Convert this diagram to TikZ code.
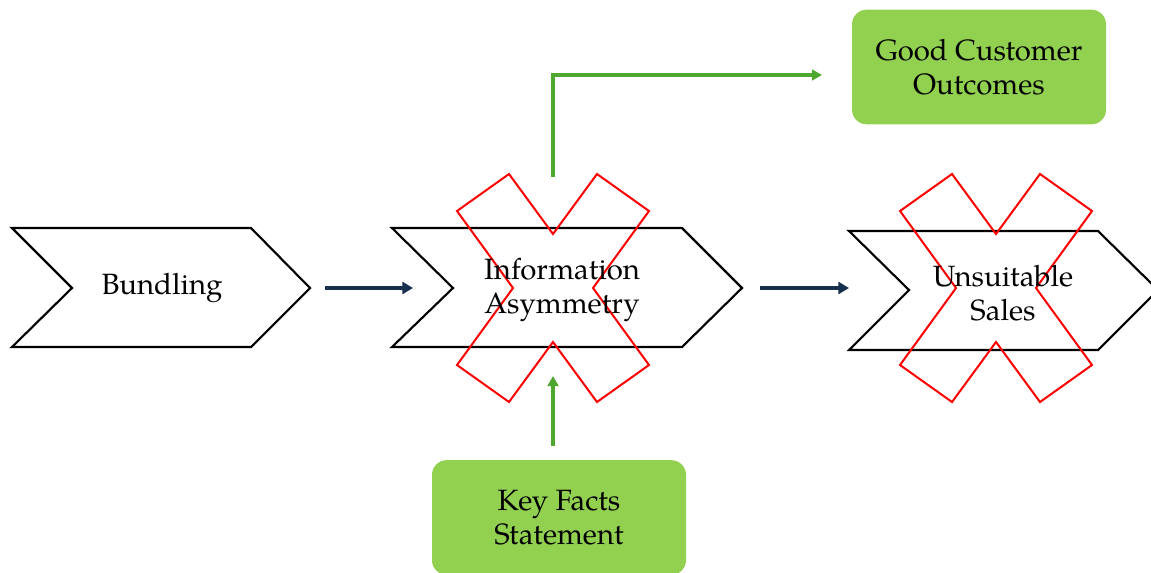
\documentclass[tikz,border=0pt]{standalone}
\usepackage{fontspec}
\setmainfont{TeX Gyre Pagella}
\usetikzlibrary{arrows.meta}
\definecolor{navy}{HTML}{16304D}
\definecolor{gline}{HTML}{4EA72E}
\definecolor{gfill}{HTML}{92D050}
\begin{document}
\begin{tikzpicture}[x=0.75pt,y=-0.75pt,
  chev/.style={draw=black,line width=1.6pt,line join=miter,fill=white},
  redx/.style={draw=red,line width=1.5pt,line join=miter},
  lbl/.style={align=center,font=\fontsize{22}{25.5}\selectfont,inner sep=0pt},
  navyarrow/.style={draw=navy,line width=3pt,-{Triangle[length=8pt,width=9pt]}},
  greenarrow/.style={draw=gline,line width=2.6pt,-{Triangle[length=7.5pt,width=8pt]}},
  gbox/.style={fill=gfill,rounded corners=11pt,minimum width=190.5pt,minimum height=86pt,align=center,font=\fontsize{22}{25.5}\selectfont,inner sep=0pt},
  pics/crossmark/.style={code={
    \draw[redx] (-44,-114) -- (0,-54) -- (44,-114) -- (96,-77) -- (40,0) -- (96,77)
      -- (44,114) -- (0,54) -- (-44,114) -- (-96,77) -- (-40,0) -- (-96,-77) -- cycle;}}]
\useasboundingbox (0,0) rectangle (1151,572);
\clip (0,0) rectangle (1151,572);
% chevrons
\draw[chev] (12,228) -- (251,228) -- (310,288) -- (251,347) -- (12,347) -- (72,288) -- cycle;
\draw[chev] (392,228) -- (682,228) -- (742,288) -- (682,347) -- (392,347) -- (453,288) -- cycle;
\draw[chev] (849,231) -- (1098,231) -- (1158,290) -- (1098,350) -- (849,350) -- (909,290) -- cycle;
% red crosses
\pic at (553,288) {crossmark};
\pic at (996,288) {crossmark};
% labels
\node[lbl] (bund) at (162,288) {Bundling};
\node[lbl] (info) at (562,290) {Information\\Asymmetry};
\node[lbl] (uns) at (1003,293) {Unsuitable\\Sales};
% green boxes
\node[gbox] (gco) at (979,67) {Good Customer\\Outcomes};
\node[gbox] (kfs) at (559,517.5) {Key Facts\\Statement};
% connector end points
\node[coordinate] (a1s) at (325,288) {};
\node[coordinate] (a1e) at (413,288) {};
\node[coordinate] (a2s) at (760,288) {};
\node[coordinate] (a2e) at (849,288) {};
\node[coordinate] (gs) at (553,177) {};
\node[coordinate] (ge) at (822,75) {};
\node[coordinate] (ks) at (553,446) {};
\node[coordinate] (ke) at (553,376) {};
% connectors
\draw[navyarrow] (a1s) -- (a1e);
\draw[navyarrow] (a2s) -- (a2e);
\draw[greenarrow] (gs) |- (ge);
\draw[greenarrow] (ks) -- (ke);
\end{tikzpicture}
\end{document}
